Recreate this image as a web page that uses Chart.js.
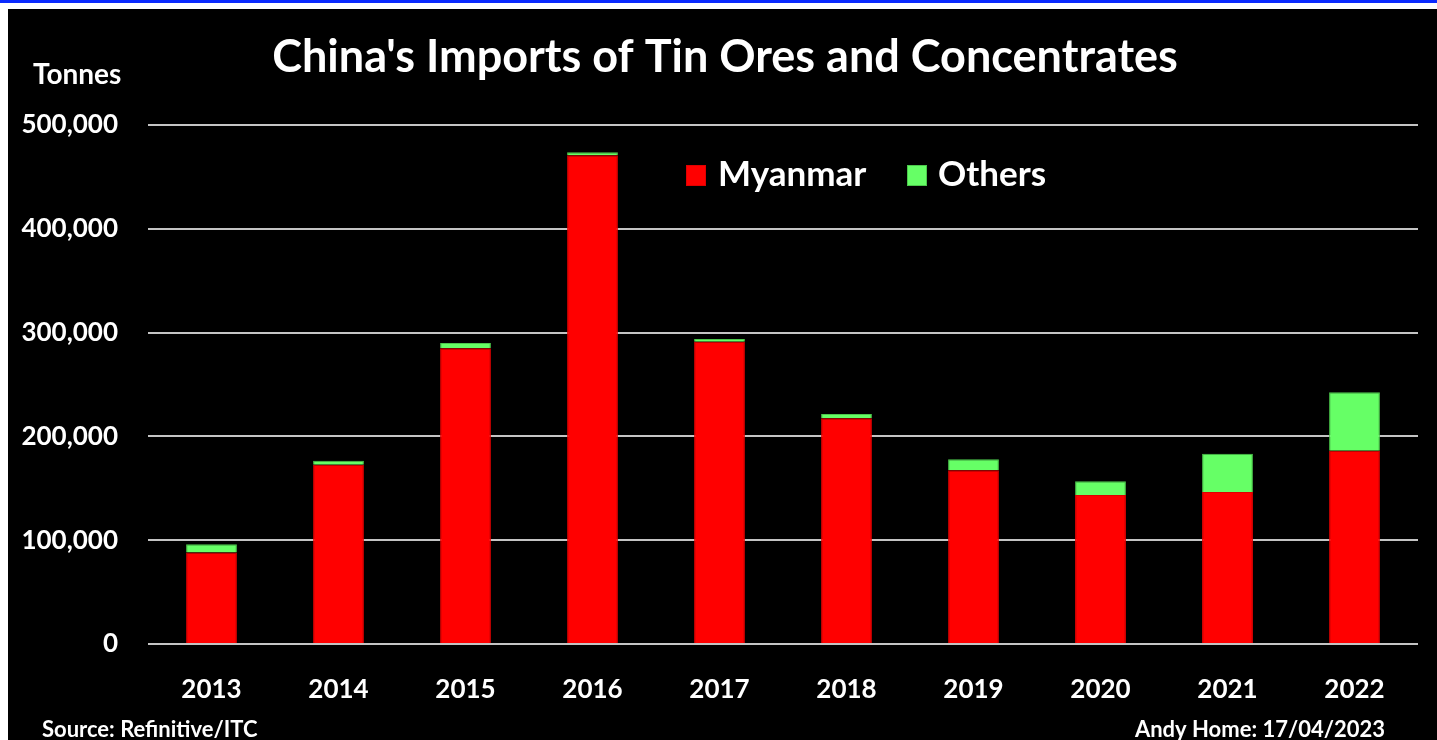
<!DOCTYPE html>
<html>
<head>
<meta charset="utf-8">
<script src="https://cdn.jsdelivr.net/npm/chart.js@4"></script>
<style>
  html, body { margin: 0; padding: 0; background: #ffffff; width: 1437px; height: 740px; overflow: hidden; }
  #topline { position: absolute; left: 0; top: 0; width: 1437px; height: 3px; background: #0a2aff; }
  #frame { position: absolute; left: 8px; top: 9px; width: 1429px; height: 731px; background: #000000; }
  canvas { display: block; }
</style>
</head>
<body>
<div id="topline"></div>
<div id="frame"><canvas id="c" width="1429" height="731"></canvas></div>
<script>
const categories = ['2013','2014','2015','2016','2017','2018','2019','2020','2021','2022'];
const myanmar = [88200, 172800, 285000, 470900, 291300, 217600, 167300, 143600, 146500, 186200];
const others  = [8000, 3800, 5100, 2800, 2600, 3900, 10600, 13100, 36800, 56400];
const yTicks = [0, 100000, 200000, 300000, 400000, 500000];

const titleText = "China's Imports of Tin Ores and Concentrates";
const unitText = 'Tonnes';
const sourceText = 'Source: Refinitive/ITC';
const authorText = 'Andy Home: 17/04/2023';

const FONT = 'Lato, "Open Sans", sans-serif';

const textPlugin = {
  id: 'texts',
  afterDraw(chart) {
    const ctx = chart.ctx;
    ctx.save();
    ctx.fillStyle = '#ffffff';
    ctx.textBaseline = 'alphabetic';
    // title
    ctx.font = 'bold 45px ' + FONT;
    ctx.textAlign = 'center';
    ctx.fillText(titleText, 717, 63);
    // unit
    ctx.font = 'bold 28px ' + FONT;
    ctx.textAlign = 'left';
    ctx.fillText(unitText, 25, 75);
    // footer
    ctx.font = 'bold 22px ' + FONT;
    ctx.textAlign = 'left';
    ctx.fillText(sourceText, 34, 728);
    ctx.textAlign = 'right';
    ctx.fillText(authorText, 1377, 728);
    // legend
    const ds = chart.data.datasets;
    const legendPos = [{ sx: 678, tx: 710 }, { sx: 899, tx: 930 }];
    ctx.font = 'bold 35px ' + FONT;
    ctx.textAlign = 'left';
    ds.forEach((d, i) => {
      ctx.fillStyle = d.backgroundColor;
      ctx.fillRect(legendPos[i].sx, 156, 20, 21);
      ctx.strokeStyle = d.borderColor;
      ctx.lineWidth = 1;
      ctx.strokeRect(legendPos[i].sx + 0.5, 156.5, 19, 20);
      ctx.fillStyle = '#ffffff';
      ctx.fillText(d.label, legendPos[i].tx, 177);
    });
    ctx.restore();
  }
};

new Chart(document.getElementById('c'), {
  type: 'bar',
  data: {
    labels: categories,
    datasets: [
      { label: 'Myanmar', data: myanmar, backgroundColor: '#ff0000', borderColor: '#e00000', borderWidth: 1,
        barPercentage: 0.4, categoryPercentage: 1.0 },
      { label: 'Others', data: others, backgroundColor: '#66ff66', borderColor: '#4cc84c', borderWidth: 1,
        barPercentage: 0.4, categoryPercentage: 1.0 }
    ]
  },
  options: {
    responsive: false,
    animation: false,
    devicePixelRatio: 1,
    layout: { padding: { top: 116, right: 19, left: 0, bottom: 0 } },
    plugins: { legend: { display: false }, title: { display: false }, tooltip: { enabled: false } },
    scales: {
      x: {
        stacked: true,
        grid: { display: false, drawTicks: false },
        border: { display: false },
        ticks: { color: '#ffffff', font: { family: FONT, size: 26, weight: 'bold' }, padding: 30, maxRotation: 0 },
        afterFit(s) { s.height = 96; }
      },
      y: {
        stacked: true,
        min: 0, max: 500000,
        afterBuildTicks(s) { s.ticks = yTicks.map(v => ({ value: v })); },
        grid: { color: '#c4c4c4', lineWidth: 2, drawTicks: false },
        border: { display: false },
        ticks: { color: '#ffffff', font: { family: FONT, size: 26, weight: 'bold' }, padding: 30,
          callback: v => v.toLocaleString('en-US') },
        afterFit(s) { s.width = 140; }
      }
    }
  },
  plugins: [textPlugin]
});
</script>
</body>
</html>
